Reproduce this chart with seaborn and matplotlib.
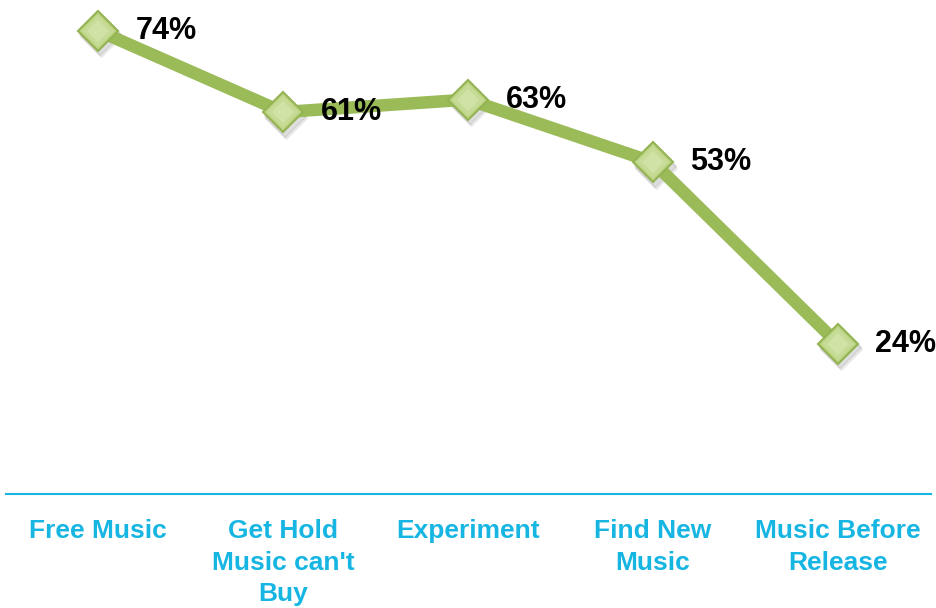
import pandas as pd
import matplotlib.pyplot as plt
import seaborn as sns

# Chart data
categories = ['Free Music', "Get Hold\nMusic can't\nBuy", 'Experiment', 'Find New\nMusic', 'Music Before\nRelease']
values = [74, 61, 63, 53, 24]
value_labels = ['74%', '61%', '63%', '53%', '24%']

df = pd.DataFrame({'category': categories, 'value': values})

sns.set_style('white')
plt.rcParams['font.family'] = ['Liberation Sans', 'DejaVu Sans']

fig = plt.figure(figsize=(9.36, 6.08), dpi=100)
ax = fig.add_axes([5.5 / 936, (608 - 494) / 608, 925 / 936, 494 / 608])

# soft shadow under the markers
x_pos = list(range(len(categories)))
for dx, dy, a in [(0.014, -0.9, 0.06), (0.01, -0.6, 0.08)]:
    ax.plot([x + dx for x in x_pos], [v + dy for v in values], linestyle='none', marker='D',
            markersize=21, color='#000000', alpha=a, zorder=2)

sns.lineplot(data=df, x='category', y='value', ax=ax, color='#9BBB59', linewidth=9,
             marker='D', markersize=20, markerfacecolor='#BCD483', markeredgecolor='#93B352',
             markeredgewidth=1.5, sort=False, zorder=3)

# lighter centre of the diamonds (rough gradient)
ax.plot(x_pos, values, linestyle='none', marker='D', markersize=16,
        markerfacecolor='#C6DB95', markeredgewidth=0, zorder=3.4)
ax.plot(x_pos, values, linestyle='none', marker='D', markersize=11,
        markerfacecolor='#D0E2A6', markeredgewidth=0, zorder=3.5)

for x, v, lab in zip(x_pos, values, value_labels):
    ax.annotate(lab, (x, v), xytext=(27, 0), textcoords='offset points', ha='left', va='center',
                fontsize=22, fontweight='bold', color='black', zorder=4)

ax.set_xlim(-0.5, 4.5)
ax.set_ylim(0, 78.9)
ax.set_xlabel('')
ax.set_ylabel('')
ax.set_yticks([])
ax.set_xticks(x_pos)
ax.set_xticklabels(categories, fontsize=19, fontweight='bold', color='#17B6E2', linespacing=1.4)
ax.tick_params(axis='x', length=0, pad=18)

for side in ['top', 'right', 'left']:
    ax.spines[side].set_visible(False)
ax.spines['bottom'].set_color('#17B6E2')
ax.spines['bottom'].set_linewidth(1.5)

fig.savefig('out.png', dpi=100)
plt.close()
